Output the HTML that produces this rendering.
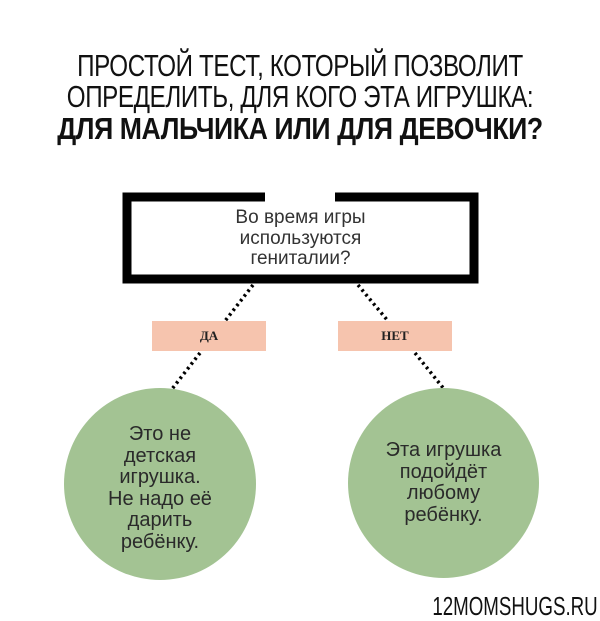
<!DOCTYPE html>
<html><head><meta charset="utf-8"><style>
html,body{margin:0;padding:0;background:#fff;}
body{width:600px;height:619px;position:relative;overflow:hidden;font-family:"Liberation Sans","DejaVu Sans",sans-serif;}
.t{position:absolute;left:0;width:600px;text-align:center;font-size:31px;line-height:31px;color:#111;transform:scaleX(0.78);transform-origin:300px 0;white-space:nowrap;letter-spacing:-0.5px}
.c{position:absolute;border-radius:50%;background:#a3c393;}
.ct{position:absolute;text-align:center;font-size:20px;line-height:21.5px;color:#2a2a2a;}
.p{position:absolute;background:#f6c4ae;height:30px;top:321px;width:114px;font-family:"Liberation Serif",serif;font-weight:bold;font-size:13px;line-height:30px;text-align:center;color:#222}
</style></head><body>
<div class="t" style="top:50px">ПРОСТОЙ ТЕСТ, КОТОРЫЙ ПОЗВОЛИТ</div>
<div class="t" style="top:81px">ОПРЕДЕЛИТЬ, ДЛЯ КОГО ЭТА ИГРУШКА:</div>
<div class="t" style="top:113px;font-weight:bold;transform:scaleX(0.86)">ДЛЯ МАЛЬЧИКА ИЛИ ДЛЯ ДЕВОЧКИ?</div>

<svg width="600" height="619" style="position:absolute;left:0;top:0">
<path d="M265 197 H127 V279 H474 V197 H335" fill="none" stroke="#000" stroke-width="9"/>
<g stroke="#000" stroke-width="3.5" stroke-dasharray="2.5 3.5" fill="none">
<line x1="253" y1="285" x2="225" y2="321"/>
<line x1="200" y1="353" x2="172" y2="389"/>
<line x1="358" y1="285" x2="388" y2="321"/>
<line x1="415" y1="353" x2="444" y2="389"/>
</g>
</svg>
<div style="position:absolute;left:131px;width:339px;top:208px;text-align:center;font-size:19px;line-height:20.5px;color:#333">Во время игры<br>используются<br>гениталии?</div>

<div class="p" style="left:152px">ДА</div>
<div class="p" style="left:338px">НЕТ</div>

<div class="c" style="left:64px;top:388px;width:192px;height:192px"></div>
<div class="c" style="left:348px;top:388px;width:191px;height:190px"></div>
<div class="ct" style="left:64px;width:192px;top:424px">Это не<br>детская<br>игрушка.<br>Не надо её<br>дарить<br>ребёнку.</div>
<div class="ct" style="left:348px;width:191px;top:440px">Эта игрушка<br>подойдёт<br>любому<br>ребёнку.</div>

<div style="position:absolute;right:2px;top:594px;font-size:26px;line-height:24px;color:#111;transform:scaleX(0.72);transform-origin:right top;white-space:nowrap">12MOMSHUGS.RU</div>
</body></html>
